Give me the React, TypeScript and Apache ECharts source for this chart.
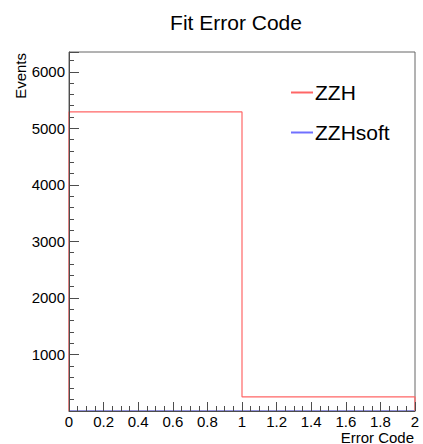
import React, { useEffect, useRef } from "react";
import * as echarts from "echarts";

const binEdges = [0, 1, 2];
const zzhCounts = [5290, 250];
const zzhSoftCounts = [0, 0];
const seriesNames = ["ZZH", "ZZHsoft"];
const seriesColors = ["#ff6666", "#7070ff"];
const yTickStep = 1000;
const xTickStep = 0.2;

function histPath(edges: number[], counts: number[]): number[][] {
  const pts: number[][] = [[edges[0], 0]];
  counts.forEach((c, i) => {
    pts.push([edges[i], c]);
    pts.push([edges[i + 1], c]);
  });
  pts.push([edges[edges.length - 1], 0]);
  return pts;
}

const FONT = "'Liberation Sans', Arial, Helvetica, sans-serif";
const AXIS_COLOR = "#4d4d4d";

export default function App() {
  const ref = useRef<HTMLDivElement>(null);
  useEffect(() => {
    if (!ref.current) return;
    const chart = echarts.init(ref.current, undefined, { renderer: "svg" });
    chart.setOption({
      animation: false,
      backgroundColor: "#ffffff",
      title: {
        text: "Fit Error Code",
        left: 231,
        textAlign: "center",
        top: 7,
        textStyle: { fontFamily: FONT, fontSize: 21, fontWeight: "normal", color: "#000" },
      },
      grid: {
        left: 69,
        right: 8,
        top: 52,
        bottom: 33,
        show: true,
        borderColor: "#666666",
        borderWidth: 1,
        backgroundColor: "transparent",
      },
      legend: {
        orient: "vertical",
        left: 286,
        top: 77,
        itemWidth: 22,
        itemHeight: 2,
        itemGap: 19,
        icon: "rect",
        data: seriesNames.map((name, i) => ({
          name,
          itemStyle: { color: seriesColors[i], borderWidth: 0 },
        })),
        textStyle: { fontFamily: FONT, fontSize: 21, color: "#000", padding: [0, 0, 0, -3] },
      },
      xAxis: {
        type: "value",
        min: 0,
        max: 2,
        interval: xTickStep,
        z: 3,
        axisLine: { show: true, onZero: false, lineStyle: { color: AXIS_COLOR, width: 1 } },
        axisTick: { show: true, inside: true, length: 9, lineStyle: { color: AXIS_COLOR } },
        minorTick: { show: true, splitNumber: 4, length: 5, lineStyle: { color: AXIS_COLOR } },
        splitLine: { show: false },
        minorSplitLine: { show: false },
        axisLabel: {
          fontFamily: FONT,
          fontSize: 15,
          color: "#000",
          margin: 3,
          formatter: (v: number) => String(Math.round(v * 10) / 10),
        },
      },
      yAxis: {
        type: "value",
        min: 0,
        max: 6350,
        interval: yTickStep,
        z: 3,
        axisLine: { show: true, onZero: false, lineStyle: { color: AXIS_COLOR, width: 1 } },
        axisTick: { show: true, inside: true, length: 10, lineStyle: { color: AXIS_COLOR } },
        minorTick: { show: true, splitNumber: 5, length: 5, lineStyle: { color: AXIS_COLOR } },
        splitLine: { show: false },
        minorSplitLine: { show: false },
        axisLabel: {
          fontFamily: FONT,
          fontSize: 15,
          color: "#000",
          margin: 4,
          formatter: (v: number) => (v === 0 || v % yTickStep !== 0 ? "" : String(v)),
        },
      },
      graphic: [
        {
          type: "text",
          x: 20,
          y: 53,
          rotation: Math.PI / 2,
          style: {
            text: "Events",
            align: "right",
            verticalAlign: "middle",
            fontFamily: FONT,
            fontSize: 15,
            fill: "#000",
          },
        },
        {
          type: "text",
          x: 414,
          y: 437,
          style: {
            text: "Error Code",
            align: "right",
            verticalAlign: "middle",
            fontFamily: FONT,
            fontSize: 15,
            fill: "#000",
          },
        },
      ],
      series: [
        {
          name: seriesNames[1],
          type: "line",
          data: histPath(binEdges, zzhSoftCounts),
          symbol: "none",
          color: seriesColors[1],
          itemStyle: { color: seriesColors[1] },
          lineStyle: { color: seriesColors[1], width: 1 },
          z: 1,
        },
        {
          name: seriesNames[0],
          type: "line",
          data: histPath(binEdges, zzhCounts),
          symbol: "none",
          color: seriesColors[0],
          itemStyle: { color: seriesColors[0] },
          lineStyle: { color: seriesColors[0], width: 1.2 },
          z: 2,
        },
      ],
    });
    return () => chart.dispose();
  }, []);
  return (
    <div
      ref={ref}
      style={{ position: "fixed", left: 0, top: 0, width: 423, height: 444 }}
    />
  );
}
